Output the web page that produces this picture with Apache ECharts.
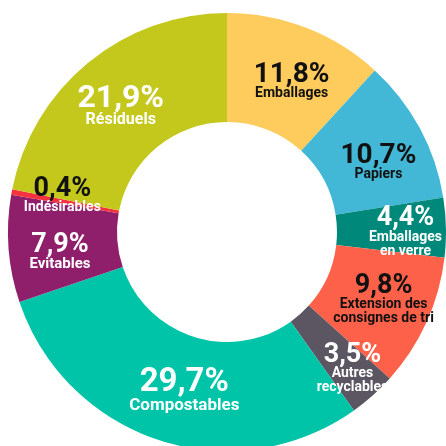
<!DOCTYPE html>
<html>
<head>
<meta charset="utf-8">
<script src="https://cdn.jsdelivr.net/npm/echarts@6/dist/echarts.min.js"></script>
<style>html,body{margin:0;padding:0;background:#fff}#c{width:446px;height:446px}</style>
</head>
<body>
<div id="c"></div>
<script>
var categories = ['Emballages', 'Papiers', 'Emballages\nen verre', 'Extension des\nconsignes de tri', 'Autres\nrecyclables', 'Compostables', 'Evitables', 'Indésirables', 'Résiduels'];
var values = [11.8, 10.7, 4.4, 9.8, 3.5, 29.7, 7.9, 0.4, 21.9];
var colors = ['#FDCC5C', '#43B7D6', '#00897A', '#FE6149', '#5B5662', '#00C4A8', '#8F1F6B', '#F5333F', '#C4C81D'];
// label styles: [percent size, name size, percent color, name color, offset]
var labelStyles = [
  [28, 14, '#111', '#111', [4, 6]],
  [28, 14, '#111', '#111', [4, 10]],
  [27, 14, '#fff', '#fff', [11, 4]],
  [27, 14, '#111', '#111', [4, -1]],
  [27, 14, '#fff', '#fff', [14, 12]],
  [33, 17, '#fff', '#fff', [9, 0]],
  [27, 15, '#fff', '#fff', [0, 8]],
  [27, 14, '#111', '#fff', [0, -5]],
  [32, 16, '#fff', '#fff', [0, 4]]
];
var data = categories.map(function (c, i) {
  var s = labelStyles[i];
  return {
    name: c,
    value: values[i],
    itemStyle: { color: colors[i] },
    label: {
      offset: s[4],
      rich: {
        p: { fontSize: s[0], fontWeight: 'bold', color: s[2], fontFamily: 'Roboto', lineHeight: s[0] * 0.85, align: 'center' },
        n: { fontSize: s[1], fontWeight: 'bold', color: s[3], fontFamily: 'Roboto', lineHeight: s[1], align: 'center' }
      }
    }
  };
});
var chart = echarts.init(document.getElementById('c'), null, { renderer: 'canvas' });
chart.setOption({
  animation: false,
  series: [{
    type: 'pie',
    center: [227, 232],
    radius: [110, 219],
    startAngle: 90,
    clockwise: true,
    avoidLabelOverlap: false,
    silent: true,
    labelLine: { show: false },
    label: {
      show: true,
      position: 'inside',
      formatter: function (p) {
        var pct = p.value.toFixed(1).replace('.', ',') + '%';
        var lines = p.name.split('\n').map(function (l) { return '{n|' + l + '}'; });
        return '{p|' + pct + '}\n' + lines.join('\n');
      }
    },
    data: data
  }]
});
</script>
</body>
</html>
